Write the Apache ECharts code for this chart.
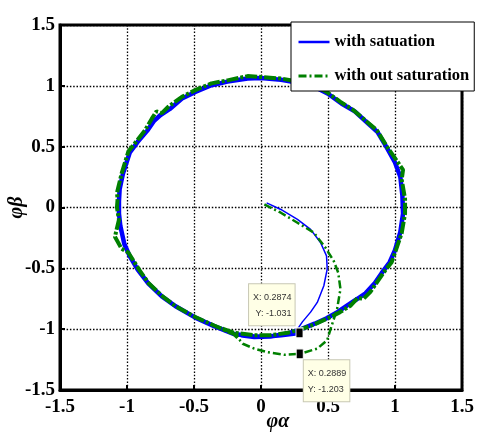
<!DOCTYPE html>
<html>
<head>
<meta charset="utf-8">
<script src="https://cdn.jsdelivr.net/npm/echarts@6/dist/echarts.min.js"></script>
<style>
  html, body { margin: 0; padding: 0; background: #fff; }
  #chart { width: 477px; height: 432px; }
</style>
</head>
<body>
<div id="chart"></div>
<script>
// Axis ticks (flux alpha / beta components)
const xTicks = [-1.5, -1, -0.5, 0, 0.5, 1, 1.5];
const yTicks = [-1.5, -1, -0.5, 0, 0.5, 1, 1.5];

// Legend names
const seriesNames = ['with satuation', 'with out saturation'];

// With saturation: start-up spiral from the origin
const blueStart = [
  [0.042, 0.038], [0.148, -0.016], [0.272, -0.098], [0.37, -0.18], [0.444, -0.288],
  [0.489, -0.398], [0.494, -0.506], [0.469, -0.643], [0.42, -0.78], [0.37, -0.86],
  [0.309, -0.94], [0.272, -1.0], [0.2874, -1.031]
];

// With saturation: steady-state flux locus (clockwise)
const blueLoop = [
  [0.2874, -1.031], [0.15, -1.05], [0.05, -1.06], [-0.05, -1.06], [-0.2, -1.04],
  [-0.35, -0.975], [-0.49, -0.905], [-0.64, -0.81], [-0.74, -0.73], [-0.84, -0.625],
  [-0.92, -0.51], [-0.98, -0.4], [-1.02, -0.3], [-1.05, -0.15], [-1.06, -0.05],
  [-1.06, 0.05], [-1.055, 0.15], [-1.03, 0.28], [-0.98, 0.45], [-0.92, 0.54],
  [-0.85, 0.63], [-0.8, 0.71], [-0.75, 0.76], [-0.68, 0.81], [-0.59, 0.895],
  [-0.49, 0.95], [-0.37, 1.005], [-0.25, 1.035], [-0.1, 1.06], [0.0, 1.065],
  [0.15, 1.05], [0.3, 1.02], [0.42, 0.98], [0.5, 0.935], [0.6, 0.855],
  [0.7, 0.79], [0.8, 0.69], [0.87, 0.62], [0.94, 0.49], [1.0, 0.37],
  [1.04, 0.25], [1.055, 0.1], [1.06, -0.05], [1.04, -0.2], [1.0, -0.35],
  [0.96, -0.45], [0.9, -0.54], [0.85, -0.62], [0.78, -0.705], [0.72, -0.75],
  [0.65, -0.8], [0.57, -0.86], [0.49, -0.91], [0.4, -0.955], [0.3, -1.0],
  [0.2, -1.035], [0.07, -1.06], [-0.05, -1.065], [-0.15, -1.05]
];

// Without saturation: start-up spiral from the origin
const greenStart = [
  [0.025, 0.025], [0.148, -0.043], [0.272, -0.125], [0.395, -0.207], [0.481, -0.33],
  [0.543, -0.44], [0.576, -0.535], [0.593, -0.67], [0.568, -0.833], [0.519, -1.0],
  [0.494, -1.09], [0.42, -1.16], [0.2889, -1.203], [0.173, -1.21], [0.05, -1.19],
  [-0.05, -1.16], [-0.136, -1.12], [-0.173, -1.07]
];

// Without saturation: steady-state flux locus (clockwise)
const greenLoop = [
  [-0.173, -1.07], [-0.2, -1.04], [-0.35, -0.97], [-0.49, -0.9], [-0.64, -0.81],
  [-0.74, -0.725], [-0.84, -0.62], [-0.91, -0.51], [-0.99, -0.37], [-1.04, -0.34],
  [-1.09, -0.24], [-1.06, -0.1], [-1.075, 0.0], [-1.07, 0.07], [-1.075, 0.12],
  [-1.04, 0.28], [-0.99, 0.46], [-0.94, 0.53], [-0.865, 0.635], [-0.815, 0.73],
  [-0.78, 0.79], [-0.74, 0.775], [-0.69, 0.83], [-0.59, 0.91], [-0.49, 0.965],
  [-0.37, 1.02], [-0.25, 1.045], [-0.1, 1.08], [0.0, 1.073], [0.15, 1.06],
  [0.3, 1.03], [0.42, 0.99], [0.49, 0.95], [0.59, 0.87], [0.69, 0.8],
  [0.79, 0.705], [0.865, 0.635], [0.94, 0.5], [1.01, 0.39], [1.06, 0.31],
  [1.05, 0.23], [1.075, 0.07], [1.075, -0.05], [1.05, -0.21], [1.01, -0.34],
  [0.975, -0.45], [0.925, -0.52], [0.865, -0.615], [0.815, -0.695], [0.765, -0.75],
  [0.72, -0.745], [0.67, -0.805], [0.59, -0.86], [0.52, -0.9], [0.4, -0.96],
  [0.3, -1.0], [0.2, -1.03], [0.07, -1.05], [-0.05, -1.05], [-0.2, -1.03],
  [-0.3, -0.99]
];

// Data cursor readouts
const tipBlue = [0.2874, -1.031];
const tipGreen = [0.2889, -1.203];

const BLUE = '#0000ff';
const GREEN = '#008000';
const SERIF = '"Liberation Serif", "Times New Roman", serif';
const DASH_DOT = [8, 3, 2, 3];

function tipPoint(pt, pos, align, vAlign) {
  return {
    coord: pt,
    symbol: 'rect',
    symbolSize: [7, 10],
    itemStyle: { color: '#000', borderColor: '#fff', borderWidth: 1 },
    label: {
      show: true,
      position: pos,
      align: align,
      verticalAlign: vAlign,
      formatter: 'X: ' + pt[0] + '\nY: ' + pt[1],
      fontFamily: 'Arial, "Liberation Sans", sans-serif',
      fontSize: 9,
      lineHeight: 16,
      color: '#333',
      backgroundColor: '#ffffe6',
      borderColor: '#c8c8b4',
      borderWidth: 1,
      padding: [5, 3, 4, 4]
    }
  };
}

const axisCommon = {
  type: 'value',
  min: -1.5,
  max: 1.5,
  interval: 0.5,
  nameMoveOverlap: false,
  axisLine: { show: true, onZero: false, lineStyle: { color: '#000', width: 3 } },
  axisTick: { show: true, inside: true, length: 5, lineStyle: { color: '#000', width: 2 } },
  splitLine: { show: true, lineStyle: { color: '#000', width: 1.3, type: [1.5, 1.8] } },
  axisLabel: {
    color: '#000',
    fontFamily: SERIF,
    fontWeight: 'bold',
    fontSize: 19
  }
};

const chart = echarts.init(document.getElementById('chart'), null, { renderer: 'canvas' });

chart.setOption({
  animation: false,
  backgroundColor: '#fff',
  grid: {
    left: 60, top: 25, width: 402, height: 365,
    outerBoundsMode: 'none',
    containLabel: false,
    show: true, borderColor: '#000', borderWidth: 3, backgroundColor: '#fff'
  },
  xAxis: Object.assign({}, axisCommon, {
    name: 'φα',
    nameLocation: 'middle',
    nameGap: 22,
    nameTextStyle: {
      color: '#000', fontFamily: SERIF, fontWeight: 'bold', fontStyle: 'italic',
      fontSize: 20, padding: [0, 0, 0, 34]
    },
    axisLabel: Object.assign({}, axisCommon.axisLabel, {
      margin: 8,
      formatter: v => String(xTicks.find(t => Math.abs(t - v) < 1e-9))
    })
  }),
  yAxis: Object.assign({}, axisCommon, {
    name: 'φβ',
    nameLocation: 'middle',
    nameRotate: 90,
    nameGap: 33,
    nameTextStyle: {
      color: '#000', fontFamily: SERIF, fontWeight: 'bold', fontStyle: 'italic', fontSize: 20
    },
    axisLabel: Object.assign({}, axisCommon.axisLabel, {
      margin: 5,
      formatter: v => String(yTicks.find(t => Math.abs(t - v) < 1e-9))
    })
  }),
  legend: {
    orient: 'vertical',
    left: 291,
    top: 22,
    padding: [10, 5, 5, 6],
    itemGap: 14,
    itemWidth: 31,
    itemHeight: 14,
    backgroundColor: '#fff',
    borderColor: '#000',
    borderWidth: 1,
    textStyle: { color: '#000', fontFamily: SERIF, fontWeight: 'bold', fontSize: 16.5, lineHeight: 20 },
    data: [
      { name: seriesNames[0], itemStyle: { opacity: 0 }, lineStyle: { color: BLUE, width: 2.5, type: 'solid' } },
      { name: seriesNames[1], itemStyle: { opacity: 0 }, lineStyle: { color: GREEN, width: 3, type: DASH_DOT } }
    ]
  },
  series: [
    {
      name: seriesNames[0], type: 'line', data: blueLoop, showSymbol: false, symbol: 'none',
      lineStyle: { color: BLUE, width: 4.5 }, itemStyle: { color: BLUE }, z: 2
    },
    {
      name: seriesNames[0], type: 'line', data: blueStart, showSymbol: false, symbol: 'none',
      lineStyle: { color: BLUE, width: 1.5 }, itemStyle: { color: BLUE }, z: 2,
      markPoint: { z: 10, data: [tipPoint(tipBlue, [-1, -2], 'right', 'bottom')] }
    },
    {
      name: seriesNames[1], type: 'line', data: greenLoop, showSymbol: false, symbol: 'none',
      lineStyle: { color: GREEN, width: 4, type: [12, 2, 3, 2] }, itemStyle: { color: GREEN }, z: 3
    },
    {
      name: seriesNames[1], type: 'line', data: greenStart, showSymbol: false, symbol: 'none',
      lineStyle: { color: GREEN, width: 2.5, type: DASH_DOT }, itemStyle: { color: GREEN }, z: 3,
      markPoint: { z: 10, data: [tipPoint(tipGreen, [8, 12], 'left', 'top')] }
    }
  ]
});
</script>
</body>
</html>
